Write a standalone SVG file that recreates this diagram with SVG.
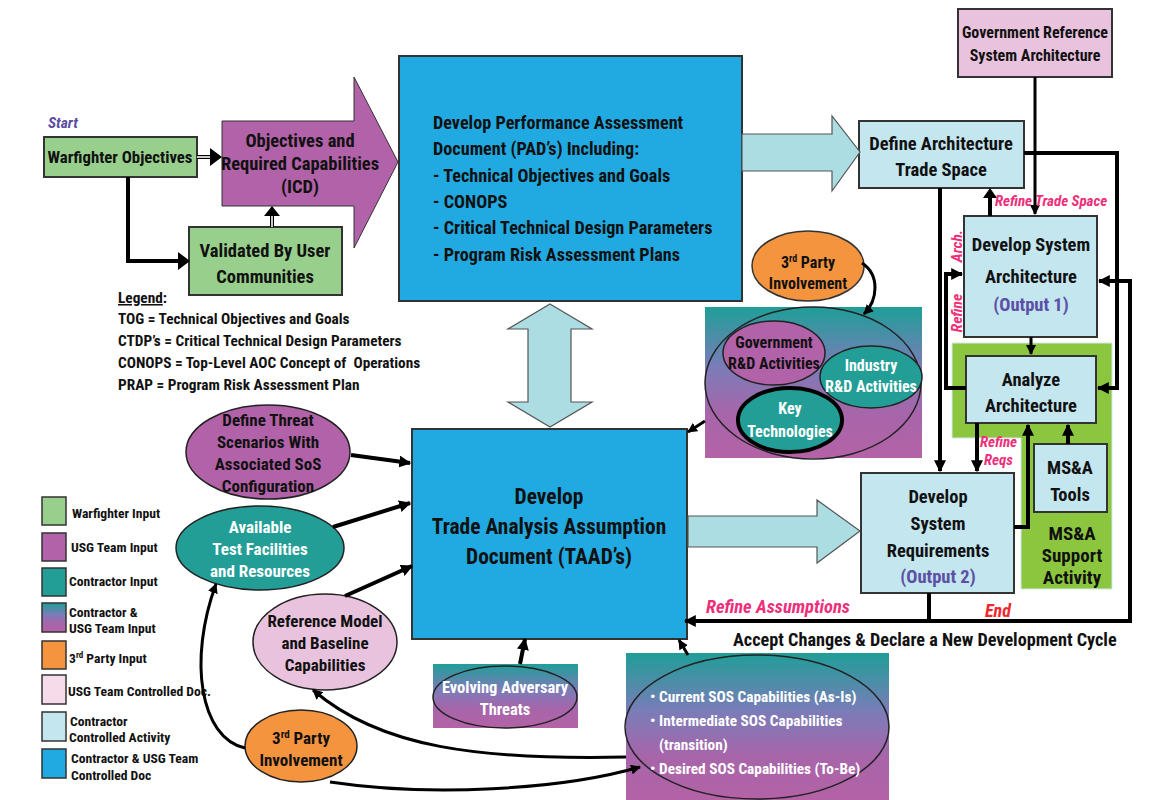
<svg xmlns="http://www.w3.org/2000/svg" width="1159" height="800" viewBox="0 0 1159 800">
<defs>
<linearGradient id="grad" x1="0" y1="0" x2="0" y2="1">
<stop offset="0" stop-color="#1f9e98"/>
<stop offset="0.4" stop-color="#7b7cb8"/>
<stop offset="0.7" stop-color="#a765aa"/>
<stop offset="1" stop-color="#b462a6"/>
</linearGradient>
<marker id="ah" viewBox="0 0 10 10" refX="9" refY="5" markerWidth="12" markerHeight="12" markerUnits="userSpaceOnUse" orient="auto">
<path d="M0,0 L10,5 L0,10 z" fill="#000"/>
</marker>
<marker id="ahs" viewBox="0 0 10 10" refX="9" refY="5" markerWidth="10" markerHeight="10" markerUnits="userSpaceOnUse" orient="auto">
<path d="M0,0 L10,5 L0,10 z" fill="#000"/>
</marker>
<style>
text{font-family:"Liberation Sans Narrow","Roboto Condensed","Liberation Sans",Arial,sans-serif;font-weight:bold;fill:#111}
.c{text-anchor:middle}
.w{fill:#fff}
.pk{fill:#ee2f7a;font-style:italic}
.pu{fill:#5c50a5}
.box{stroke:#333;stroke-width:2}
.green{fill:#98cf8c}
.purple{fill:#b262a8}
.teal{fill:#229e97}
.orange{fill:#f5943f}
.pink{fill:#e9c3de}
.lblue{fill:#c3e6ef}
.blue{fill:#21a9e1}
.barrow{fill:#acdde2;stroke:#555;stroke-width:1.2}
.ln{fill:none;stroke:#000;stroke-width:4}
.ln3{fill:none;stroke:#000;stroke-width:3}
.lg{stroke:#333;stroke-width:1.5}
.lt{font-size:13.6px}
.leg{font-size:15.3px}
</style>
</defs>

<g id="msa-support">
<path d="M952,343 H1112 V589 H1021 V438 H952 Z" fill="#8cc63f" stroke="#cfe9ef" stroke-width="1"/>
<text class="c" x="1072" y="540" font-size="19">MS&amp;A</text>
<text class="c" x="1072" y="562" font-size="19">Support</text>
<text class="c" x="1072" y="584" font-size="19">Activity</text>
</g>

<g id="start-label"><text x="48" y="128" font-size="15.5" font-style="italic" style="fill:#5b4ea3">Start</text></g>

<g id="warfighter">
<rect class="box green" x="44" y="137" width="153" height="40"/>
<text class="c" x="120" y="163" font-size="16.8">Warfighter Objectives</text>
</g>

<g id="objectives">
<path class="purple" d="M222,121 H354 V77 L398,162 L354,248 V206 H222 Z" stroke="#333" stroke-width="1"/>
<text class="c" x="300" y="147" font-size="18.5">Objectives and</text>
<text class="c" x="300" y="170" font-size="18.5">Required Capabilities</text>
<text class="c" x="300" y="193" font-size="18.5">(ICD)</text>
</g>

<g id="validated">
<rect class="box green" x="189" y="227" width="153" height="68"/>
<text class="c" x="265" y="257" font-size="18.5">Validated By User</text>
<text class="c" x="265" y="283" font-size="18.5">Communities</text>
</g>

<g id="legend-text">
<text x="118" y="303" class="leg"><tspan text-decoration="underline">Legend</tspan>:</text>
<text x="118" y="324" class="leg">TOG = Technical Objectives and Goals</text>
<text x="118" y="346" class="leg">CTDP’s = Critical Technical Design Parameters</text>
<text x="118" y="368" class="leg">CONOPS = Top-Level AOC Concept of&#160; Operations</text>
<text x="118" y="390" class="leg">PRAP = Program Risk Assessment Plan</text>
</g>

<g id="pad">
<rect class="box blue" x="399" y="56" width="343" height="245"/>
<text x="433" y="129" font-size="18.2">Develop Performance Assessment</text>
<text x="433" y="155" font-size="18.2">Document (PAD’s) Including:</text>
<text x="433" y="182" font-size="18.2">- Technical Objectives and Goals</text>
<text x="433" y="208" font-size="18.2">- CONOPS</text>
<text x="433" y="234" font-size="18.2">- Critical Technical Design Parameters</text>
<text x="433" y="261" font-size="18.2">- Program Risk Assessment Plans</text>
</g>

<g id="gov-ref">
<rect class="box pink" x="958" y="9" width="154" height="68"/>
<text class="c" x="1035" y="38" font-size="16">Government Reference</text>
<text class="c" x="1035" y="61" font-size="16">System Architecture</text>
</g>

<g id="define-trade">
<rect class="box lblue" x="859" y="121" width="165" height="67"/>
<text class="c" x="941" y="150" font-size="18.5">Define Architecture</text>
<text class="c" x="941" y="176" font-size="18.5">Trade Space</text>
</g>

<g id="dev-sys-arch">
<rect class="box lblue" x="964" y="216" width="133" height="121"/>
<text class="c" x="1031" y="251" font-size="18.5">Develop System</text>
<text class="c" x="1031" y="283" font-size="18.5">Architecture</text>
<text class="c pu" x="1031" y="311" font-size="18.5">(Output 1)</text>
</g>

<g id="analyze">
<rect class="box lblue" x="966" y="356" width="130" height="67"/>
<text class="c" x="1031" y="386" font-size="18.5">Analyze</text>
<text class="c" x="1031" y="412" font-size="18.5">Architecture</text>
</g>

<g id="msa-tools">
<rect class="box lblue" x="1034" y="444" width="73" height="68"/>
<text class="c" x="1070" y="474" font-size="18.5">MS&amp;A</text>
<text class="c" x="1070" y="501" font-size="18.5">Tools</text>
</g>

<g id="dev-sys-req">
<rect class="box lblue" x="861" y="473" width="153" height="120"/>
<text class="c" x="938" y="503" font-size="18.5">Develop</text>
<text class="c" x="938" y="530" font-size="18.5">System</text>
<text class="c" x="938" y="557" font-size="18.5">Requirements</text>
<text class="c pu" x="938" y="583" font-size="18.5">(Output 2)</text>
</g>

<g id="third-party-top">
<ellipse class="orange" cx="808" cy="266" rx="56" ry="35" stroke="#333" stroke-width="1.5"/>
<text class="c" x="808" y="268" font-size="16">3<tspan font-size="10" dy="-6">rd</tspan><tspan dy="6"> Party</tspan></text>
<text class="c" x="808" y="289" font-size="16">Involvement</text>
</g>

<g id="rd-activities">
<rect x="705" y="307" width="217" height="151" fill="url(#grad)"/>
<ellipse cx="813" cy="383" rx="108" ry="76" fill="none" stroke="#222" stroke-width="1.5"/>
<ellipse class="purple" cx="774" cy="353" rx="51" ry="32" stroke="#222" stroke-width="1.5"/>
<text class="c" x="774" y="348" font-size="16">Government</text>
<text class="c" x="774" y="369" font-size="16">R&amp;D Activities</text>
<ellipse class="teal" cx="871" cy="377" rx="51" ry="31" stroke="#222" stroke-width="1.5"/>
<text class="c w" x="871" y="371" font-size="16">Industry</text>
<text class="c w" x="871" y="392" font-size="16">R&amp;D Activities</text>
<ellipse class="teal" cx="790" cy="420" rx="52" ry="32" stroke="#000" stroke-width="4"/>
<text class="c w" x="790" y="414" font-size="16">Key</text>
<text class="c w" x="790" y="437" font-size="16">Technologies</text>
</g>

<g id="taad">
<rect class="box blue" x="412" y="429" width="275" height="210"/>
<text class="c" x="549" y="504" font-size="21.5">Develop</text>
<text class="c" x="549" y="534" font-size="21.5">Trade Analysis Assumption</text>
<text class="c" x="549" y="564" font-size="21.5">Document (TAAD’s)</text>
</g>

<g id="threat">
<ellipse class="purple" cx="268" cy="452" rx="82" ry="47" stroke="#222" stroke-width="1.5"/>
<text class="c" x="268" y="426" font-size="17">Define Threat</text>
<text class="c" x="268" y="448" font-size="17">Scenarios With</text>
<text class="c" x="268" y="470" font-size="17">Associated SoS</text>
<text class="c" x="268" y="492" font-size="17">Configuration</text>
</g>

<g id="test-facilities">
<ellipse class="teal" cx="260" cy="548" rx="84" ry="42" stroke="#222" stroke-width="1.5"/>
<text class="c w" x="260" y="533" font-size="17">Available</text>
<text class="c w" x="260" y="555" font-size="17">Test Facilities</text>
<text class="c w" x="260" y="577" font-size="17">and Resources</text>
</g>

<g id="reference-model">
<ellipse class="pink" cx="325" cy="642" rx="72" ry="48" stroke="#222" stroke-width="1.5"/>
<text class="c" x="325" y="627" font-size="17">Reference Model</text>
<text class="c" x="325" y="649" font-size="17">and Baseline</text>
<text class="c" x="325" y="671" font-size="17">Capabilities</text>
</g>

<g id="third-party-bottom">
<ellipse class="orange" cx="301" cy="746" rx="56" ry="36" stroke="#222" stroke-width="1.5"/>
<text class="c" x="301" y="744" font-size="17">3<tspan font-size="11" dy="-6">rd</tspan><tspan dy="6"> Party</tspan></text>
<text class="c" x="301" y="766" font-size="17">Involvement</text>
</g>

<g id="evolving">
<rect x="433" y="664" width="145" height="64" fill="url(#grad)"/>
<ellipse cx="505" cy="697" rx="72" ry="31" fill="none" stroke="#222" stroke-width="1.5"/>
<text class="c w" x="505" y="693" font-size="16.5">Evolving Adversary</text>
<text class="c w" x="505" y="715" font-size="16.5">Threats</text>
</g>

<g id="sos-capabilities">
<rect x="626" y="653" width="263" height="147" fill="url(#grad)"/>
<ellipse cx="757" cy="727" rx="132" ry="72" fill="none" stroke="#222" stroke-width="1.5"/>
<text class="w" x="650" y="702" font-size="15.3">• Current SOS Capabilities (As-Is)</text>
<text class="w" x="650" y="726" font-size="15.3">• Intermediate SOS Capabilities</text>
<text class="w" x="659" y="750" font-size="15.3">(transition)</text>
<text class="w" x="650" y="774" font-size="15.3">• Desired SOS Capabilities (To-Be)</text>
</g>

<g id="legend-boxes">
<rect class="lg green" x="42" y="497" width="24" height="28"/>
<text class="lt" x="72" y="518">Warfighter Input</text>
<rect class="lg purple" x="42" y="533" width="24" height="28"/>
<text class="lt" x="71" y="552">USG Team Input</text>
<rect class="lg teal" x="42" y="568" width="24" height="28"/>
<text class="lt" x="69" y="586">Contractor Input</text>
<rect class="lg" x="42" y="603" width="24" height="29" fill="url(#grad)"/>
<text class="lt" x="69" y="617">Contractor &amp;</text>
<text class="lt" x="69" y="633">USG Team Input</text>
<rect class="lg orange" x="42" y="641" width="24" height="28"/>
<text class="lt" x="69" y="663">3<tspan font-size="9" dy="-5">rd</tspan><tspan dy="5"> Party Input</tspan></text>
<rect class="lg" x="42" y="675" width="24" height="29" fill="#f6dcea"/>
<text class="lt" x="68" y="696">USG Team Controlled Doc.</text>
<rect class="lg lblue" x="42" y="712" width="24" height="29"/>
<text class="lt" x="70" y="726">Contractor</text>
<text class="lt" x="69" y="742">Controlled Activity</text>
<rect class="lg blue" x="42" y="749" width="24" height="29"/>
<text class="lt" x="71" y="763">Contractor &amp; USG Team</text>
<text class="lt" x="71" y="780">Controlled Doc</text>
</g>

<g id="connectors">
<path class="barrow" d="M550,304 L592,329 H571 V402 H592 L550,427 L508,402 H528 V329 H508 Z"/>
<path class="barrow" d="M742,134 H832 V116 L860,152 L832,191 V171 H742 Z"/>
<path class="barrow" d="M688,516 H817 V500 L860,531 L817,563 V547 H688 Z"/>
<path class="ln" stroke-width="6" d="M197,157 H214" />
<path d="M197,157 H212" stroke="#fff" stroke-width="1.6"/>
<path d="M210,148 L222,157 L210,166 Z" fill="#000"/>
<path class="ln" stroke-width="5" d="M128,177 V261 H180"/>
<path d="M178,252 L190,261 L178,270 Z" fill="#000"/>
<path class="ln" stroke-width="6" d="M272,227 V214"/>
<path d="M272,227 V215" stroke="#fff" stroke-width="1.6"/>
<path d="M264,216 L272,206 L280,216 Z" fill="#000"/>
<path class="ln3" d="M1035,77 V214" marker-end="url(#ahs)"/>
<path class="ln" d="M940,188 V471" marker-end="url(#ah)"/>
<path class="ln" stroke-width="5" d="M990,216 V196"/>
<path d="M983,198 L990,188 L997,198 Z" fill="#000"/>
<path class="ln" d="M1024,153 H1117 V388 H1098" marker-end="url(#ah)"/>
<path class="ln" d="M929,593 V621 H1130 V281 H1099" marker-end="url(#ah)"/>
<path class="ln" d="M929,621 H685" marker-end="url(#ah)"/>
<path class="ln3" d="M1031,337 V354" marker-end="url(#ahs)"/>
<path class="ln" d="M966,388 H946 V274 H962" marker-end="url(#ah)"/>
<path class="ln" d="M977,423 V471" marker-end="url(#ah)"/>
<path class="ln" d="M1014,527 H1028 V425" marker-end="url(#ah)"/>
<path class="ln" d="M1068,444 V425" marker-end="url(#ah)"/>
<path class="ln" d="M351,455 L410,463" marker-end="url(#ah)"/>
<path class="ln" d="M333,527 L410,503" marker-end="url(#ah)"/>
<path class="ln" d="M345,596 L412,566" marker-end="url(#ah)"/>
<path class="ln" d="M520,664 L525,639" marker-end="url(#ah)"/>
<path class="ln3" d="M688,655 L679,640" marker-end="url(#ahs)"/>
<path class="ln3" d="M705,421 L688,432" marker-end="url(#ahs)"/>
<path class="ln3" d="M862,263 C880,275 878,300 864,314" marker-end="url(#ahs)"/>
<path class="ln3" d="M245,748 C200,738 188,660 216,584" marker-end="url(#ahs)"/>
<path class="ln3" d="M330,782 C430,797 560,790 640,767" marker-end="url(#ahs)"/>
<path class="ln3" d="M626,757 C480,760 380,748 313,690" marker-end="url(#ahs)"/>
</g>

<g id="connector-labels">
<text class="pk" x="995" y="206" font-size="15">Refine Trade Space</text>
<text class="pk" font-size="15.5" transform="translate(962,313) rotate(-90)" text-anchor="middle">Refine</text>
<text class="pk" font-size="15.5" transform="translate(962,246) rotate(-90)" text-anchor="middle">Arch.</text>
<text class="pk" x="980" y="447" font-size="15">Refine</text>
<text class="pk" x="984" y="465" font-size="15">Reqs</text>
<text class="pk" x="706" y="613" font-size="18.5">Refine Assumptions</text>
<text x="985" y="617" font-size="18" font-style="italic" style="fill:#f0282e">End</text>
<text x="733" y="646" font-size="18.2">Accept Changes &amp; Declare a New Development Cycle</text>
</g>
</svg>
